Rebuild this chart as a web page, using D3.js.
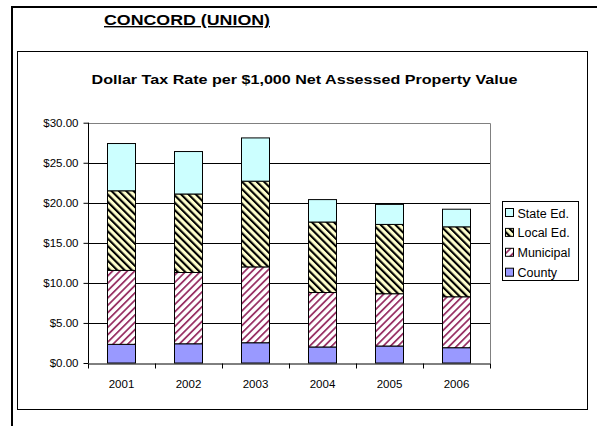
<!DOCTYPE html>
<html><head><meta charset="utf-8">
<script src="https://cdn.jsdelivr.net/npm/d3@7"></script>
<style>
html,body{margin:0;padding:0;background:#fff;}
svg{display:block;font-family:"Liberation Sans",Arial,sans-serif;}
</style></head>
<body>
<svg id="c" width="597" height="426"></svg>
<script>
const years = ["2001","2002","2003","2004","2005","2006"];
const seriesNames = ["County","Municipal","Local Ed.","State Ed."];
const county    = [2.33, 2.40, 2.53, 2.00, 2.12, 1.91];
const municipal = [9.23, 8.90, 9.47, 6.80, 6.53, 6.36];
const localEd   = [9.94, 9.80, 10.70, 8.80, 8.65, 8.73];
const stateEd   = [5.90, 5.30, 5.40, 2.80, 2.50, 2.20];
const yTicks = [0,5,10,15,20,25,30];

const svg = d3.select("#c");
const defs = svg.append("defs");
function stripe(id, bg, fg, angle, w){
  const p = defs.append("pattern").attr("id",id).attr("patternUnits","userSpaceOnUse")
    .attr("width",5.2).attr("height",5.2).attr("patternTransform",`rotate(${angle})`);
  p.append("rect").attr("width",5.2).attr("height",5.2).attr("fill",bg);
  p.append("rect").attr("width",w).attr("height",5.2).attr("fill",fg);
}
stripe("pLocal","#ffffcc","#000",-45,2.1);
stripe("pMuni","#ffffff","#993366",45,1.8);
const fills = {"County":"#9999ff","Municipal":"url(#pMuni)","Local Ed.":"url(#pLocal)","State Ed.":"#ccffff"};

// outer frame
svg.append("line").attr("x1",11).attr("x2",597).attr("y1",7).attr("y2",7).attr("stroke","#000").attr("stroke-width",2);
svg.append("line").attr("x1",12).attr("x2",12).attr("y1",6).attr("y2",426).attr("stroke","#000").attr("stroke-width",2);
svg.append("text").attr("x",187).attr("y",25).attr("text-anchor","middle").attr("font-size",14).attr("font-weight","bold")
  .attr("text-decoration","underline").attr("textLength",166).attr("lengthAdjust","spacingAndGlyphs").text("CONCORD (UNION)");

// chart box
svg.append("rect").attr("x",17.5).attr("y",51.5).attr("width",570).attr("height",358).attr("fill","#fff").attr("stroke","#000");
svg.append("text").attr("x",304.5).attr("y",84).attr("text-anchor","middle").attr("font-size",13).attr("font-weight","bold")
  .attr("textLength",426).attr("lengthAdjust","spacingAndGlyphs")
  .text("Dollar Tax Rate per $1,000 Net Assessed Property Value");

const L=88, R=490, T=122.7, B=363;
const x = d3.scaleBand().domain(years).range([L,R]).paddingInner(0.58).paddingOuter(0.29);
const y = d3.scaleLinear().domain([0,30]).range([B,T]);

// grid
svg.append("g").selectAll("line").data(yTicks.slice(1,-1)).join("line")
  .attr("x1",L).attr("x2",R).attr("y1",d=>Math.round(y(d))+0.5).attr("y2",d=>Math.round(y(d))+0.5).attr("stroke","#000");
// plot border top/right
svg.append("path").attr("d",`M${L},${Math.round(T)+0.5}H${R+0.5}V${B}`).attr("fill","none").attr("stroke","#808080");

const table = years.map((yr,i)=>({year:yr,"County":county[i],"Municipal":municipal[i],"Local Ed.":localEd[i],"State Ed.":stateEd[i]}));
const stack = d3.stack().keys(seriesNames)(table);
svg.append("g").selectAll("g").data(stack).join("g").attr("fill",s=>fills[s.key])
  .selectAll("rect").data(s=>s).join("rect")
  .attr("x",d=>Math.round(x(d.data.year))+0.5).attr("width",Math.round(x.bandwidth()))
  .attr("y",d=>y(d[1])).attr("height",d=>y(d[0])-y(d[1]))
  .attr("stroke","#000").attr("stroke-width",1);

// axes
const yAxis = d3.axisLeft(y).tickValues(yTicks).tickFormat(d=>"$"+d3.format(".2f")(d)).tickSize(5).tickPadding(5);
const gy = svg.append("g").attr("transform",`translate(${L+0.5},0)`).call(yAxis);
const x2 = d3.scaleLinear().domain([0,6]).range([L,R]);
const gx = svg.append("g").attr("transform",`translate(0,${B+0.5})`)
  .call(d3.axisBottom(x2).tickValues([0,1,2,3,4,5,6]).tickFormat("").tickSize(5).tickSizeOuter(0));
svg.append("g").selectAll("text").data(years).join("text")
  .attr("x",d=>x(d)+x.bandwidth()/2).attr("y",388).attr("text-anchor","middle").attr("font-size",11.5).attr("fill","#000").text(d=>d);
[gy,gx].forEach(g=>{g.selectAll("path,line").attr("stroke","#000");g.selectAll("text").attr("font-size",11.5).attr("fill","#000").attr("font-family","Liberation Sans, Arial, sans-serif");});
gy.select(".domain").attr("d",`M0,${T}V${B}`);

// legend
const lg = svg.append("g");
lg.append("rect").attr("x",502.5).attr("y",201.5).attr("width",76).attr("height",79).attr("fill","#fff").attr("stroke","#000");
const legOrder = ["State Ed.","Local Ed.","Municipal","County"];
const li = lg.selectAll("g").data(legOrder).join("g").attr("transform",(d,i)=>`translate(505,${213+i*19.9})`);
li.append("rect").attr("x",0.5).attr("y",-4.5).attr("width",8).attr("height",8).attr("fill",d=>fills[d]).attr("stroke","#000");
li.append("text").attr("x",12.5).attr("y",4.5).attr("font-size",12.5).text(d=>d);
</script>
</body></html>
